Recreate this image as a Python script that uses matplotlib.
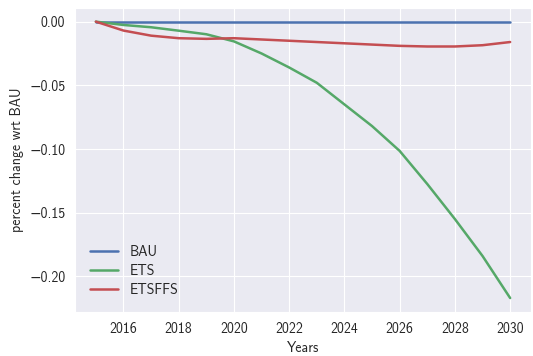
import numpy as np
import matplotlib
matplotlib.use('Agg')
import matplotlib.pyplot as plt
import seaborn as sns

sns.set_style('darkgrid')
plt.rcParams['font.family'] = ['cmss10', 'DejaVu Sans']
plt.rcParams['font.size'] = 10
plt.rcParams['axes.formatter.use_mathtext'] = False

# data
years = np.arange(2015, 2031)
bau = [0.0] * 16
ets = [0.0, -0.0026, -0.0044, -0.0071, -0.0099, -0.0155, -0.025, -0.036, -0.048, -0.065,
       -0.082, -0.1015, -0.1275, -0.155, -0.184, -0.217]
etsffs = [0.0, -0.007, -0.011, -0.013, -0.0135, -0.013, -0.014, -0.015, -0.016, -0.017,
          -0.018, -0.019, -0.0195, -0.0195, -0.0185, -0.016]

colors = ['#4c72b0', '#55a868', '#c44e52']

fig, ax = plt.subplots(figsize=(5.33, 3.56), dpi=100)
ax.plot(years, bau, color=colors[0], lw=1.8, label='BAU')
ax.plot(years, ets, color=colors[1], lw=1.8, label='ETS')
ax.plot(years, etsffs, color=colors[2], lw=1.8, label='ETSFFS')
ax.set_xlabel('Years')
ax.set_ylabel('percent change wrt BAU')
ax.legend(loc='lower left', frameon=False, labelspacing=0.35, borderaxespad=0.7)
plt.subplots_adjust(left=0.141, right=0.996, top=0.978, bottom=0.124)
plt.savefig('out.png')
